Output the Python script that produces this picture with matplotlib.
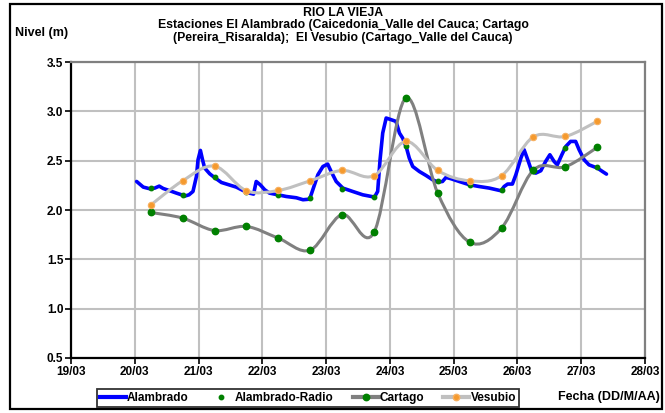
import matplotlib
matplotlib.use('Agg')
import matplotlib.pyplot as plt
import matplotlib.dates as mdates
from matplotlib.path import Path
from matplotlib.patches import PathPatch, Rectangle
from matplotlib.lines import Line2D
from matplotlib.ticker import FormatStrFormatter, MultipleLocator
import datetime as dt

plt.rcParams['font.family'] = ['Liberation Sans', 'DejaVu Sans']

# ---------------- data ----------------
start_date = dt.datetime(2008, 3, 20)  # hours below are counted from 20/03 00:00

# station readings every 12 hours (06:00 and 18:00)
station_hours = [6, 18, 30, 42, 54, 66, 78, 90, 102, 114, 126, 138, 150, 162, 174]
cartago = [1.975, 1.918, 1.792, 1.833, 1.715, 1.593, 1.954, 1.772, 3.135, 2.171,
           1.674, 1.816, 2.405, 2.438, 2.634]
vesubio = [2.05, 2.296, 2.445, 2.195, 2.198, 2.296, 2.401, 2.347, 2.695, 2.401,
           2.296, 2.347, 2.742, 2.745, 2.898]
alambrado_radio = [2.218, 2.154, 2.33, 2.185, 2.147, 2.117, 2.215, 2.131, 2.644, 2.289,
                   2.256, 2.198, 2.40, 2.628, 2.431]

# automatic station El Alambrado (near-hourly record)
alambrado_hours = [0.7, 3.2, 5.7, 7.5, 9.2, 10.7, 13.2, 15.7, 17.6, 18.8,
                   20.4, 21.9, 23.2, 23.8, 24.7, 25.5, 26.3, 28.2, 30.1, 32.6,
                   35.7, 38.2, 40.7, 43.2, 44.7, 45.7, 47.2, 48.9, 50.7, 53.9,
                   57.0, 60.8, 63.3, 65.8, 67.0, 68.9, 70.8, 72.6, 73.9, 75.8,
                   78.3, 82.0, 85.8, 90.2, 91.4, 92.3, 93.3, 94.6, 96.5, 98.3,
                   99.6, 100.8, 102.1, 103.3, 104.6, 107.1, 109.6, 112.1, 114.0, 115.8,
                   117.1, 119.0, 122.1, 125.9, 129.6, 133.4, 137.8, 139.0, 140.3, 142.1,
                   143.4, 145.3, 146.5, 148.1, 149.4, 150.9, 152.8, 154.6, 156.2, 157.8,
                   159.0, 160.7, 162.2, 164.0, 165.9, 167.2, 169.1, 170.9, 174.1, 176.0,
                   177.5]
alambrado = [2.289, 2.232, 2.215, 2.222, 2.242, 2.218, 2.195, 2.171, 2.154, 2.141,
             2.154, 2.188, 2.340, 2.509, 2.604, 2.509, 2.425, 2.367, 2.327, 2.279,
             2.253, 2.232, 2.198, 2.171, 2.161, 2.289, 2.256, 2.205, 2.171, 2.154,
             2.137, 2.124, 2.104, 2.110, 2.205, 2.357, 2.441, 2.465, 2.390, 2.289,
             2.222, 2.188, 2.154, 2.131, 2.188, 2.509, 2.780, 2.932, 2.915, 2.898,
             2.780, 2.729, 2.644, 2.526, 2.441, 2.390, 2.350, 2.306, 2.283, 2.289,
             2.330, 2.317, 2.289, 2.256, 2.238, 2.222, 2.195, 2.238, 2.263, 2.263,
             2.357, 2.526, 2.611, 2.492, 2.390, 2.374, 2.398, 2.492, 2.560, 2.492,
             2.458, 2.560, 2.644, 2.695, 2.695, 2.611, 2.509, 2.458, 2.425, 2.390,
             2.364]

x_tick_labels = ['19/03', '20/03', '21/03', '22/03', '23/03', '24/03', '25/03',
                 '26/03', '27/03', '28/03']
title_lines = ['RIO LA VIEJA',
               'Estaciones El Alambrado (Caicedonia_Valle del Cauca; Cartago',
               '(Pereira_Risaralda);  El Vesubio (Cartago_Valle del Cauca)']


def to_num(hours):
    return [mdates.date2num(start_date + dt.timedelta(hours=h)) for h in hours]


def smooth_path(x, y):
    verts = [(x[0], y[0])]
    codes = [Path.MOVETO]
    n = len(x)
    for i in range(n - 1):
        a = i - 1 if i > 0 else i
        d = i + 2 if i + 2 < n else i + 1
        c1 = (x[i] + (x[i + 1] - x[a]) / 6.0, y[i] + (y[i + 1] - y[a]) / 6.0)
        c2 = (x[i + 1] - (x[d] - x[i]) / 6.0, y[i + 1] - (y[d] - y[i]) / 6.0)
        verts += [c1, c2, (x[i + 1], y[i + 1])]
        codes += [Path.CURVE4] * 3
    return Path(verts, codes)


# ---------------- figure ----------------
W, H = 665, 413
fig = plt.figure(figsize=(W / 100, H / 100), dpi=100)
ax = fig.add_axes([71 / W, 1 - 358 / H, (645 - 71) / W, (358 - 62) / H])

xs = to_num(station_hours)
xa = to_num(alambrado_hours)

blue = '#0000FF'
green = '#008000'
dgray = '#808080'
lgray = '#C0C0C0'
orange = '#F59A2E'

ax.plot(xa, alambrado, color=blue, lw=2.6, solid_joinstyle='round',
        solid_capstyle='round', zorder=3)
ax.plot(xs, alambrado_radio, ls='none', marker='o', ms=3.2, color=green,
        mec=green, zorder=4)

ax.add_patch(PathPatch(smooth_path(xs, cartago), fill=False, edgecolor=dgray,
                       lw=2.2, capstyle='round', zorder=5))
ax.plot(xs, cartago, ls='none', marker='o', ms=4.6, color=green, mec=green, zorder=6)

ax.add_patch(PathPatch(smooth_path(xs, vesubio), fill=False, edgecolor=lgray,
                       lw=2.2, capstyle='round', zorder=7))
ax.plot(xs, vesubio, ls='none', marker='o', ms=4.6, color=orange, mec='#F7B060',
        mew=0.8, zorder=8)

# axes ranges / ticks
x0 = mdates.date2num(dt.datetime(2008, 3, 19))
x1 = mdates.date2num(dt.datetime(2008, 3, 28))
ax.set_xlim(x0, x1)
ax.set_ylim(0.5, 3.5)
ax.set_xticks([x0 + i for i in range(len(x_tick_labels))])
ax.set_xticklabels(x_tick_labels)
ax.yaxis.set_major_locator(MultipleLocator(0.5))
ax.yaxis.set_major_formatter(FormatStrFormatter('%.1f'))

ax.grid(True, color=lgray, lw=1.5)
ax.set_axisbelow(True)
for s in ['left', 'bottom']:
    ax.spines[s].set_color('black')
    ax.spines[s].set_linewidth(1.6)
for s in ['top', 'right']:
    ax.spines[s].set_color(dgray)
    ax.spines[s].set_linewidth(1.6)

ax.tick_params(axis='both', direction='out', length=4, width=1.2, color='black',
               labelsize=8.5, pad=1.5)
for lab in ax.get_xticklabels() + ax.get_yticklabels():
    lab.set_fontweight('bold')

# texts
fs_title = 8.8
fig.text(343 / W, 1 - 12.8 / H, title_lines[0], ha='center', va='center',
         fontsize=fs_title, fontweight='bold')
fig.text(343 / W, 1 - 25.3 / H, title_lines[1], ha='center', va='center',
         fontsize=fs_title, fontweight='bold')
fig.text(343 / W, 1 - 37.8 / H, title_lines[2], ha='center', va='center',
         fontsize=fs_title, fontweight='bold')
fig.text(15 / W, 1 - 33 / H, 'Nivel (m)', ha='left', va='center',
         fontsize=9, fontweight='bold')
fig.text(660 / W, 1 - 397 / H, 'Fecha (DD/M/AA)', ha='right', va='center',
         fontsize=9, fontweight='bold')

# legend
handles = [
    Line2D([], [], color=blue, lw=3),
    Line2D([], [], ls='none', marker='o', ms=3.2, color=green),
    Line2D([], [], color=dgray, lw=3, marker='o', ms=4.6, mfc=green, mec=green),
    Line2D([], [], color=lgray, lw=3, marker='o', ms=4.6, mfc=orange, mec='#F7B060'),
]
labels = ['Alambrado', 'Alambrado-Radio', 'Cartago', 'Vesubio']
leg = fig.legend(handles, labels, loc='center', bbox_to_anchor=(308 / W, 1 - 398 / H),
                 ncol=4, frameon=True, fancybox=False,
                 prop={'weight': 'bold', 'size': 8.5},
                 handlelength=2.2, handletextpad=0.1, columnspacing=1.6,
                 borderpad=0.25, borderaxespad=0)
leg.get_frame().set_edgecolor('black')
leg.get_frame().set_linewidth(1.3)

# outer border
fig.patches.append(Rectangle((10 / W, 1 - 409 / H), (662 - 10) / W, (409 - 4) / H,
                             transform=fig.transFigure, fill=False,
                             edgecolor='black', lw=1.6))

fig.savefig('out.png', dpi=100)
